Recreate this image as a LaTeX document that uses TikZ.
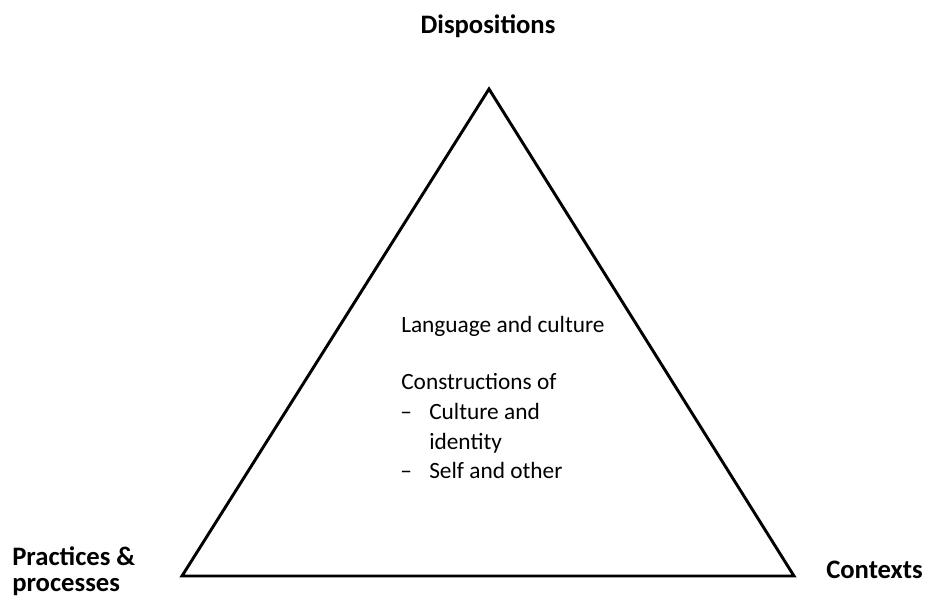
\documentclass[tikz,border=0pt]{standalone}
\usepackage{fontspec}
\setmainfont{Carlito}
\begin{document}
\begin{tikzpicture}[x=0.75pt,y=-0.75pt,
  lbl/.style={font=\fontsize{20}{24}\selectfont\bfseries, inner sep=0pt, text height=0.7em, text depth=0.2em},
  body/.style={font=\fontsize{17.5}{21}\selectfont, inner sep=0pt, anchor=west, text height=0.72em, text depth=0.22em},
  tri/.style={draw=black, line width=2.2pt, line join=miter}]
\useasboundingbox (0,0) rectangle (925,596);
\coordinate (A) at (489,89);
\coordinate (B) at (182,576);
\coordinate (C) at (794,576);
\draw[tri] (A) -- (B) -- (C) -- cycle;
\node[lbl] (disp) at (488,30) {Dispositions};
\node[lbl, anchor=west] (prac1) at (12,562) {Practices \&};
\node[lbl, anchor=west] (prac2) at (12,588) {processes};
\node[lbl, anchor=west] (ctx) at (826,575) {Contexts};
\node[body] (lang) at (401,329) {Language and culture};
\node[body] (cons) at (401,386) {Constructions of};
\node[body] (d1) at (400,416) {–};
\node[body] (c1) at (429,416) {Culture and};
\node[body] (c2) at (429,446) {identity};
\node[body] (d2) at (400,475) {–};
\node[body] (c3) at (429,475) {Self and other};
\end{tikzpicture}
\end{document}
